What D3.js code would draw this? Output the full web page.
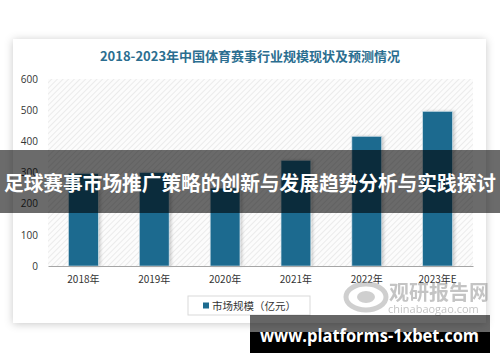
<!DOCTYPE html>
<html>
<head>
<meta charset="utf-8">
<script src="https://cdn.jsdelivr.net/npm/d3@7"></script>
<style>
  html, body { margin: 0; padding: 0; background: #fff; }
  svg { display: block; }
</style>
</head>
<body>
<div id="chart"></div>
<script>
// chart data
const years = ["2018年", "2019年", "2020年", "2021年", "2022年", "2023年E"];
const marketSize = [297, 300, 250, 339, 416, 496];
const yTicks = [0, 100, 200, 300, 400, 500, 600];

const titleText = "2018-2023年中国体育赛事行业规模现状及预测情况";
const legendText = "市场规模（亿元）";
const bannerText = "足球赛事市场推广策略的创新与发展趋势分析与实践探讨";
const siteText = "www.platforms-1xbet.com";

const W = 500, H = 362;
const barColor = "#1d6b8f";
const cjk = "'Noto Sans CJK SC', 'Open Sans', sans-serif";

const svg = d3.select("#chart").append("svg")
  .attr("width", W)
  .attr("height", H);

const defs = svg.append("defs");

// card shadow
const shadow = defs.append("filter").attr("id", "cardShadow")
  .attr("x", "-10%").attr("y", "-10%").attr("width", "120%").attr("height", "120%");
shadow.append("feDropShadow")
  .attr("dx", 0).attr("dy", 1).attr("stdDeviation", 4)
  .attr("flood-color", "#000").attr("flood-opacity", 0.22);

// bar shadow
const barShadow = defs.append("filter").attr("id", "barShadow")
  .attr("x", "-30%").attr("y", "-10%").attr("width", "160%").attr("height", "120%");
barShadow.append("feDropShadow")
  .attr("dx", 2).attr("dy", 0).attr("stdDeviation", 1.5)
  .attr("flood-color", "#000").attr("flood-opacity", 0.18);

// hatch for plot area
const hatch = defs.append("pattern").attr("id", "hatch")
  .attr("patternUnits", "userSpaceOnUse")
  .attr("width", 4).attr("height", 4)
  .attr("patternTransform", "rotate(45)");
hatch.append("rect").attr("width", 4).attr("height", 4).attr("fill", "#fcfcfc");
hatch.append("line")
  .attr("x1", 0).attr("y1", 0).attr("x2", 0).attr("y2", 4)
  .attr("stroke", "#e4e4e4").attr("stroke-width", 1.4);

// white card
svg.append("rect")
  .attr("x", 13).attr("y", 39)
  .attr("width", 473).attr("height", 284)
  .attr("fill", "#fff")
  .attr("filter", "url(#cardShadow)");

// title
svg.append("text")
  .attr("x", 250).attr("y", 61)
  .attr("text-anchor", "middle")
  .attr("font-family", cjk)
  .attr("font-size", 13)
  .attr("font-weight", "bold")
  .attr("fill", "#2b6e90")
  .text(titleText);

// scales
const plot = { left: 48, right: 473, top: 79, bottom: 266 };

const x = d3.scaleBand()
  .domain(years)
  .range([plot.left, plot.right])
  .paddingInner(0.58)
  .paddingOuter(0.29);

const y = d3.scaleLinear()
  .domain([0, 600])
  .range([plot.bottom, plot.top]);

// hatched plot background
svg.append("rect")
  .attr("x", plot.left).attr("y", plot.top)
  .attr("width", plot.right - plot.left)
  .attr("height", plot.bottom - plot.top)
  .attr("fill", "url(#hatch)");

// bars
svg.append("g").attr("class", "bars")
  .selectAll("rect")
  .data(marketSize)
  .join("rect")
  .attr("x", (d, i) => x(years[i]))
  .attr("y", d => y(d))
  .attr("width", x.bandwidth())
  .attr("height", d => y(0) - y(d))
  .attr("fill", barColor)
  .attr("stroke", "#cfe0ea")
  .attr("stroke-width", 0.6)
  .attr("filter", "url(#barShadow)");

// x axis
const xAxis = svg.append("g")
  .attr("transform", `translate(0,${plot.bottom})`)
  .call(d3.axisBottom(x).tickSize(0).tickPadding(10));
xAxis.select(".domain").attr("stroke", "#a6a6a6").attr("stroke-width", 1.2);
xAxis.selectAll("text")
  .attr("font-family", cjk)
  .attr("font-size", 10)
  .attr("fill", "#333");

// y axis
const yAxis = svg.append("g")
  .attr("transform", `translate(${plot.left},0)`)
  .call(d3.axisLeft(y).tickValues(yTicks).tickSize(0).tickPadding(10));
yAxis.select(".domain").remove();
yAxis.selectAll("text")
  .attr("font-family", "'Open Sans', sans-serif")
  .attr("font-size", 10)
  .attr("fill", "#333");

// legend
const legend = svg.append("g");
legend.append("rect")
  .attr("x", 188).attr("y", 296)
  .attr("width", 122).attr("height", 19)
  .attr("fill", "#fff")
  .attr("stroke", "#d9d9d9");
legend.append("rect")
  .attr("x", 203).attr("y", 302.5)
  .attr("width", 6).attr("height", 6)
  .attr("fill", barColor);
legend.append("text")
  .attr("x", 212).attr("y", 309.5)
  .attr("font-family", cjk)
  .attr("font-size", 10.5)
  .attr("fill", "#333")
  .text(legendText);

// watermark logo (观研报告网)
const wm = svg.append("g").attr("opacity", 0.5);
wm.append("ellipse")
  .attr("cx", 366).attr("cy", 297).attr("rx", 20).attr("ry", 13)
  .attr("fill", "none").attr("stroke", "#a0a0a0").attr("stroke-width", 5);
wm.append("ellipse")
  .attr("cx", 366).attr("cy", 297).attr("rx", 9).attr("ry", 6)
  .attr("fill", "#a0a0a0");
wm.append("text")
  .attr("x", 389).attr("y", 300)
  .attr("font-family", cjk)
  .attr("font-size", 20)
  .attr("font-weight", "bold")
  .attr("fill", "#8a8a8a")
  .text("观研报告网");
wm.append("text")
  .attr("x", 388).attr("y", 313)
  .attr("font-family", "'Open Sans', sans-serif")
  .attr("font-size", 11)
  .attr("fill", "#8a8a8a")
  .text("chinabaogao.com");

// dark banner across the middle
svg.append("rect")
  .attr("x", 0).attr("y", 150)
  .attr("width", W).attr("height", 63)
  .attr("fill", "#000")
  .attr("fill-opacity", 0.58);
svg.append("text")
  .attr("x", 250).attr("y", 191)
  .attr("text-anchor", "middle")
  .attr("font-family", cjk)
  .attr("font-size", 20)
  .attr("font-weight", "bold")
  .attr("fill", "#fff")
  .attr("textLength", 492)
  .attr("lengthAdjust", "spacingAndGlyphs")
  .text(bannerText);

// site label box at bottom right
svg.append("rect")
  .attr("x", 250).attr("y", 315)
  .attr("width", 240).attr("height", 17)
  .attr("fill", "#000").attr("fill-opacity", 0.6);
svg.append("rect")
  .attr("x", 250).attr("y", 332)
  .attr("width", 240).attr("height", 21)
  .attr("fill", "#000");
svg.append("text")
  .attr("x", 260).attr("y", 342)
  .attr("font-family", "'Open Sans', sans-serif")
  .attr("font-size", 17)
  .attr("font-weight", "bold")
  .attr("fill", "#fff")
  .attr("textLength", 219)
  .attr("lengthAdjust", "spacingAndGlyphs")
  .text(siteText);
</script>
</body>
</html>
